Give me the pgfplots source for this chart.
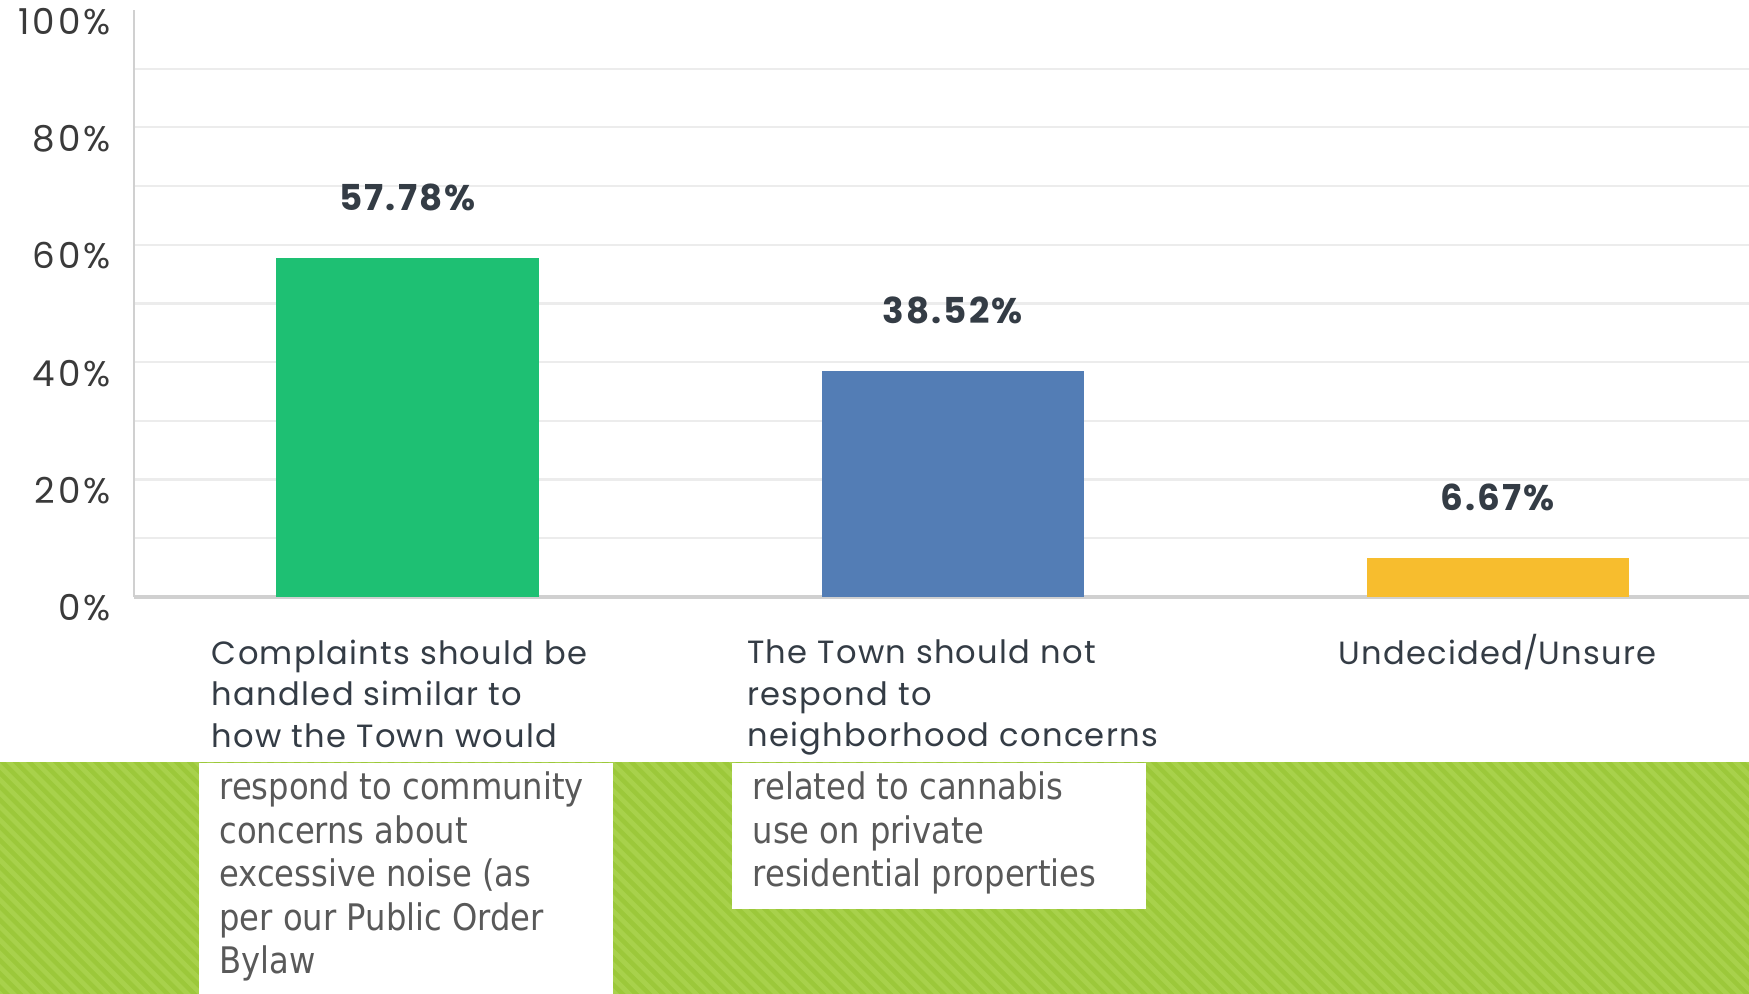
\documentclass[border=0pt]{standalone}
\usepackage{fontspec}
\setmainfont{Poppins}
\newfontfamily\catfont[LetterSpace=4]{Poppins}
\newfontfamily\tickfont[LetterSpace=8]{Poppins}
\newfontfamily\valfont[LetterSpace=6]{Poppins}
\newfontfamily\boxfont[FakeStretch=0.88]{DejaVu Sans}
\usepackage{pgfplots}
\pgfplotsset{compat=1.18}

\definecolor{barGreen}{HTML}{1EC073}
\definecolor{barBlue}{HTML}{537DB5}
\definecolor{barYellow}{HTML}{F7BD2E}
\definecolor{textDark}{HTML}{343C45}
\definecolor{tickGrey}{HTML}{3A3A3A}
\definecolor{gridGrey}{HTML}{ECECEC}
\definecolor{axisGrey}{HTML}{D0D0D0}
\definecolor{slideGreen}{HTML}{9CC83A}
\definecolor{slideStripe}{HTML}{A8D14B}
\definecolor{boxText}{HTML}{595959}

\pgfplotsset{
  pctbar/.style={ybar, bar width=58.75pt, bar shift=0pt, draw=none,
    nodes near coords={\pgfmathprintnumber[fixed,precision=2,fixed zerofill]{\pgfplotspointmeta}\%}},
}

\begin{document}
\begin{tikzpicture}
\useasboundingbox (0,0) rectangle (392pt,222.75pt);

\begin{axis}[
  at={(30pt,89pt)}, anchor=south west,
  scale only axis, width=362pt, height=131.5pt,
  xmin=-0.502, xmax=2.461,
  ymin=0, ymax=100,
  axis lines*=left,
  x axis line style={draw=axisGrey, line width=0.8pt},
  y axis line style={draw=axisGrey, line width=0.5pt},
  ytick={0,20,...,80},
  extra y ticks={100},
  extra y tick style={grid=none},
  minor ytick={10,30,...,90},
  ymajorgrids, yminorgrids,
  grid style={draw=gridGrey, line width=0.5pt},
  minor grid style={draw=gridGrey, line width=0.5pt},
  major tick length=0pt, minor tick length=0pt,
  yticklabel={\pgfmathprintnumber{\tick}\%},
  /pgf/number format/assume math mode=true,
  yticklabel style={font=\tickfont\fontsize{8}{9}\selectfont, text=tickGrey,
    inner sep=0pt, xshift=-5pt, yshift=-2.5pt},
  xtick={0,1,2},
  xticklabels={
    {Complaints should be\hspace*{3.5pt}\\handled similar to\\how the Town would},
    {The Town should not\\respond to\\neighborhood concerns},
    {Undecided\smash{/}Unsure}},
  xticklabel style={align=left, anchor=north, inner sep=0pt, yshift=-9.5pt,
    font=\catfont\fontsize{7.2}{9.25}\selectfont, text=textDark},
  every node near coord/.append style={anchor=center, yshift=13.5pt,
    font=\valfont\bfseries\fontsize{8}{8}\selectfont, text=textDark},
]
\addplot[pctbar, fill=barGreen] coordinates {(0,57.78)};
\addplot[pctbar, fill=barBlue] coordinates {(1,38.52)};
\addplot[pctbar, fill=barYellow] coordinates {(2,6.67)};
\end{axis}

% slide background that covers the lower part of the chart
\begin{scope}
  \clip (0,0) rectangle (392pt,51.75pt);
  \fill[slideGreen] (-1pt,-1pt) rectangle (393pt,53pt);
  \foreach \i in {0,...,160}
    \draw[slideStripe, line width=1.05pt] (-70pt+\i*3pt,58pt) -- ++(70pt,-70pt);
\end{scope}
\fill[white] (44.5pt,0) rectangle (137.5pt,51.75pt);
\fill[white] (164pt,19pt) rectangle (256.75pt,51.75pt);

\begin{scope}[every node/.style={anchor=base west, inner sep=0pt, text=boxText,
    font=\boxfont\fontsize{8.2}{9.75}\selectfont}]
  \node at (49pt,43.5pt) {respond to community};
  \node at (49pt,33.75pt) {concerns about};
  \node at (49pt,24pt) {excessive noise (as};
  \node at (49pt,14.25pt) {per our Public Order};
  \node at (49pt,4.5pt) {Bylaw};
  \node at (168.5pt,43.5pt) {related to cannabis};
  \node at (168.5pt,33.75pt) {use on private};
  \node at (168.5pt,24pt) {residential properties};
\end{scope}
\end{tikzpicture}
\end{document}
